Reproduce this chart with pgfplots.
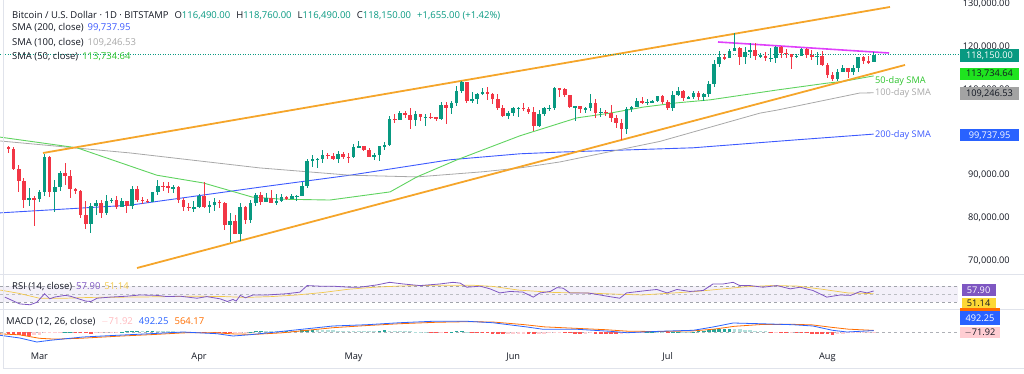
\documentclass[border=0pt]{standalone}
\usepackage{pgfplots}
\pgfplotsset{compat=1.18}
\usepackage{pgfplotstable}
\usepackage{fontspec}
\setmainfont{Open Sans}
\definecolor{up}{HTML}{089981}
\definecolor{dn}{HTML}{F23645}
\definecolor{tvtext}{HTML}{131722}
\definecolor{tvgray}{HTML}{787B86}
\definecolor{sepline}{HTML}{E0E3EB}
\definecolor{smaF}{HTML}{5FD35F}
\definecolor{smaFtxt}{HTML}{2EC42E}
\definecolor{smaH}{HTML}{A8A8A8}
\definecolor{smaT}{HTML}{3D5AFE}
\definecolor{chan}{HTML}{F5A52A}
\definecolor{mag}{HTML}{E040FB}
\definecolor{rsi}{HTML}{7E57C2}
\definecolor{rsima}{HTML}{F2C94C}
\definecolor{macd}{HTML}{2962FF}
\definecolor{sig}{HTML}{FF6D00}
\definecolor{hA}{HTML}{26A69A}
\definecolor{hB}{HTML}{B2DFDB}
\definecolor{hC}{HTML}{FF5252}
\definecolor{hD}{HTML}{FFCDD2}
\definecolor{boxgreen}{HTML}{1FE31F}
\definecolor{boxgray}{HTML}{A3A3A3}
\definecolor{boxyellow}{HTML}{FDD835}
\newcommand{\hdr}{\fontsize{9.5}{11}\selectfont}
\newcommand{\scl}{\fontsize{9.2}{10}\selectfont}

\pgfplotstableread{
d o h l c
-6 96.56 96.90 95.20 96.20
-5 96.20 96.50 91.20 91.50
-4 91.50 92.50 86.00 88.70
-3 88.70 89.30 82.30 84.30
-2 84.30 87.00 82.80 84.70
-1 84.70 85.10 78.20 84.40
0 84.40 86.50 83.80 86.00
1 86.00 95.00 85.10 94.30
2 94.30 94.40 85.00 86.10
3 86.10 88.90 81.40 87.20
4 87.20 91.00 86.30 90.60
5 90.60 92.80 87.80 89.90
6 89.90 91.30 84.70 86.80
7 86.80 86.90 85.60 86.20
8 86.20 86.50 80.00 80.70
9 80.70 83.90 77.50 78.50
10 78.50 83.60 76.60 82.90
11 82.90 84.30 80.70 83.60
12 83.60 84.30 79.90 81.10
13 81.10 85.30 80.80 84.00
14 84.00 84.70 83.60 84.30
15 84.30 85.10 82.00 82.60
16 82.60 84.70 82.50 84.00
17 84.00 84.00 81.20 82.70
18 82.70 87.40 82.20 86.80
19 86.80 87.40 83.70 84.20
20 84.20 84.80 83.20 84.00
21 84.00 84.50 83.60 83.80
22 83.80 86.10 83.70 86.00
23 86.00 88.80 85.40 87.50
24 87.50 88.50 86.30 87.40
25 87.40 88.30 85.90 86.90
26 86.90 87.80 85.80 87.20
27 87.20 87.50 83.60 84.30
28 84.30 84.60 81.60 82.60
29 82.60 83.50 81.60 82.40
30 82.40 83.90 81.30 82.50
31 82.50 85.50 82.40 85.20
32 85.20 88.50 82.30 82.50
33 82.50 83.90 81.20 83.10
34 83.10 84.70 81.70 83.80
35 83.80 84.20 82.40 83.50
36 83.50 83.80 77.20 78.40
37 78.40 81.20 74.50 79.20
38 79.20 80.80 76.20 76.30
39 76.30 83.50 74.60 82.60
40 82.60 82.70 78.50 79.60
41 79.60 84.20 78.90 83.40
42 83.40 85.80 82.80 85.30
43 85.30 86.10 83.10 83.70
44 83.70 85.80 83.70 84.60
45 84.60 86.50 83.60 83.60
46 83.60 85.50 83.10 84.00
47 84.00 85.50 83.80 84.90
48 84.90 85.10 84.30 84.50
49 84.50 85.60 84.40 85.10
50 85.10 85.30 83.90 85.10
51 85.10 88.50 85.10 87.50
52 87.50 93.80 87.10 93.40
53 93.40 94.70 91.90 93.70
54 93.70 94.00 91.70 93.90
55 93.90 95.80 92.90 94.70
56 94.70 95.30 93.90 94.60
57 94.60 95.20 93.60 93.80
58 93.80 95.60 92.90 94.90
59 94.90 95.50 93.80 94.30
60 94.30 95.10 92.90 94.20
61 94.20 97.40 94.10 96.50
62 96.50 97.90 96.30 96.90
63 96.90 96.90 95.70 95.90
64 95.90 96.30 94.20 94.30
65 94.30 95.20 93.60 94.70
66 94.70 96.90 93.40 96.80
67 96.80 97.70 95.80 97.00
68 97.00 103.90 96.90 103.20
69 103.20 104.30 102.30 102.90
70 102.90 104.90 102.80 104.60
71 104.60 104.90 103.30 104.10
72 104.10 105.80 100.80 102.80
73 102.80 104.90 101.50 104.20
74 104.20 104.30 102.60 103.50
75 103.50 104.20 101.40 103.70
76 103.70 104.50 103.10 103.50
77 103.50 103.70 102.60 103.20
78 103.20 107.00 103.00 106.40
79 106.40 107.10 102.00 105.60
80 105.60 107.30 104.20 106.80
81 106.80 110.80 106.20 109.60
82 109.60 112.00 109.30 111.70
83 111.70 111.80 106.80 107.30
84 107.30 109.50 106.90 107.80
85 107.80 109.30 106.60 109.00
86 109.00 110.40 108.70 109.40
87 109.40 110.70 107.60 108.90
88 108.90 109.30 106.70 107.80
89 107.80 108.90 105.30 105.60
90 105.60 106.30 103.70 103.90
91 103.90 104.90 103.10 104.60
92 104.60 105.90 103.90 105.60
93 105.60 105.90 103.70 105.80
94 105.80 106.80 104.90 105.40
95 105.40 106.00 104.20 104.70
96 104.70 105.90 100.40 101.50
97 101.50 105.20 101.20 104.30
98 104.30 105.90 103.90 105.60
99 105.60 106.40 105.10 105.70
100 105.70 110.60 105.30 110.30
101 110.30 110.40 108.30 110.20
102 110.20 110.30 108.30 108.70
103 108.70 108.80 105.70 105.90
104 105.90 106.20 102.70 106.10
105 106.10 106.20 104.60 105.40
106 105.40 106.00 104.50 105.60
107 105.60 108.90 104.90 106.80
108 106.80 107.80 103.40 104.60
109 104.60 105.60 103.60 104.80
110 104.80 105.20 103.90 104.60
111 104.60 106.50 102.40 103.30
112 103.30 104.00 101.10 102.20
113 102.20 103.20 98.20 100.90
114 100.90 106.00 99.60 105.40
115 105.40 106.20 104.70 106.00
116 106.00 108.00 105.90 107.30
117 107.30 108.30 106.60 106.90
118 106.90 107.70 106.30 107.10
119 107.10 107.50 106.80 107.30
120 107.30 108.50 107.20 108.40
121 108.40 108.80 106.70 107.10
122 107.10 107.50 105.30 105.70
123 105.70 109.70 105.10 108.80
124 108.80 110.50 108.60 109.60
125 109.60 109.80 107.30 108.00
126 108.00 108.40 107.80 108.20
127 108.20 109.70 107.80 109.20
128 109.20 109.70 107.50 108.20
129 108.20 109.20 107.40 108.90
130 108.90 111.90 108.30 111.30
131 111.30 116.80 110.60 115.90
132 115.90 118.90 115.20 117.50
133 117.50 118.20 116.90 117.40
134 117.40 119.50 117.30 119.10
135 119.10 123.20 118.90 119.80
136 119.80 119.90 115.70 117.70
137 117.70 120.00 116.00 118.70
138 118.70 120.80 117.40 119.30
139 119.30 120.90 116.80 117.90
140 117.90 118.60 117.30 117.90
141 117.90 118.80 116.60 117.30
142 117.30 119.70 116.50 117.40
143 117.40 120.20 116.10 119.90
144 119.90 120.10 117.30 118.60
145 118.60 119.50 117.30 118.30
146 118.30 118.40 114.70 117.60
147 117.60 118.30 117.30 117.90
148 117.90 119.80 117.80 119.40
149 119.40 119.80 117.40 118.00
150 118.00 119.30 116.90 117.80
151 117.80 118.80 115.80 117.80
152 117.80 118.90 115.50 115.70
153 115.70 116.10 112.70 113.30
154 113.30 114.00 112.00 112.50
155 112.50 114.80 112.00 114.20
156 114.20 115.70 114.10 115.00
157 115.00 115.10 112.60 114.10
158 114.10 115.80 113.40 115.00
159 115.00 117.60 114.20 117.50
160 117.50 117.90 115.90 116.60
161 116.60 117.80 116.00 116.49
162 116.49 118.76 116.49 118.15
}\candles

\pgfplotstableread{
d h k
-6 -700 2
-5 -900 2
-4 -1100 2
-3 -1250 2
-2 -1300 2
-1 -1200 3
0 -900 3
1 -500 3
2 -450 3
3 -300 3
4 -150 3
5 50 0
6 100 0
7 -50 2
8 -200 2
9 -450 2
10 -600 2
11 -400 3
12 -300 3
13 -250 3
14 -150 3
15 -50 3
16 50 0
17 200 0
18 300 0
19 350 0
20 300 1
21 400 0
22 500 0
23 450 1
24 400 1
25 300 1
26 250 1
27 150 1
28 50 1
29 -50 2
30 -100 2
31 -100 3
32 -150 2
33 -150 3
34 -200 2
35 -300 2
36 -450 2
37 -500 2
38 -450 3
39 -300 3
40 -100 3
41 100 0
42 250 0
43 300 0
44 300 1
45 250 1
46 250 1
47 300 0
48 350 0
49 300 1
50 250 1
51 600 0
52 800 0
53 850 0
54 850 1
55 800 1
56 700 1
57 600 1
58 500 1
59 400 1
60 350 1
61 350 1
62 300 1
63 300 1
64 250 1
65 200 1
66 400 0
67 550 0
68 500 1
69 400 1
70 300 1
71 250 1
72 200 1
73 100 1
74 50 1
75 20 1
76 -100 2
77 -150 2
78 -100 3
79 -150 2
80 100 0
81 250 0
82 300 0
83 100 1
84 -100 2
85 -200 2
86 -300 2
87 -450 2
88 -600 2
89 -800 2
90 -850 2
91 -800 3
92 -700 3
93 -650 3
94 -600 3
95 -650 2
96 -700 2
97 -650 3
98 -550 3
99 -400 3
100 -300 3
101 -250 3
102 -400 2
103 -500 2
104 -550 2
105 -600 2
106 -550 3
107 -500 3
108 -550 2
109 -650 2
110 -700 2
111 -750 2
112 -800 2
113 -700 3
114 -450 3
115 -250 3
116 -100 3
117 -50 3
118 20 0
119 50 0
120 50 1
121 50 1
122 -20 2
123 100 0
124 150 0
125 100 1
126 100 1
127 150 0
128 250 0
129 500 0
130 800 0
131 1000 0
132 1050 0
133 1100 0
134 1150 0
135 1100 1
136 900 1
137 750 1
138 600 1
139 450 1
140 300 1
141 200 1
142 -100 2
143 -30 3
144 -250 2
145 -300 2
146 -250 3
147 -350 2
148 -450 2
149 -500 2
150 -600 2
151 -650 2
152 -750 2
153 -850 2
154 -900 2
155 -800 3
156 -650 3
157 -500 3
158 -400 3
159 -300 3
160 -200 3
161 -150 3
162 -72 3
}\hist

\begin{document}
\scl
\begin{tikzpicture}[x=1pt,y=1pt]
% ================= MAIN PRICE PANE =================
\begin{axis}[
  at={(0pt,100pt)}, anchor=south west,
  width=958pt, height=274pt, scale only axis,
  xmin=-7.65, xmax=178.37, ymin=66.92, ymax=130.93,
  axis line style={draw=none}, major tick length=0pt,
  xtick=\empty,
  ytick={70,80,90,110,120,130},
  yticklabels={{70,000.00},{80,000.00},{90,000.00},{110,000.00},{120,000.00},{130,000.00}},
  yticklabel pos=right,
  yticklabel style={anchor=east, xshift=55pt, font=\scl, text=tvtext},
  clip=false,
]
% SMA 200
\addplot[smaT, line width=0.9pt, no marks] coordinates {
(-7.65,81.2) (17.6,83.0) (42.8,87.2) (60.3,90.0) (79.7,93.6) (93.3,95.0) (101.1,95.4) (126.9,96.4) (146.3,98.2) (162,99.6)};
% SMA 100
\addplot[smaH, line width=0.8pt, no marks] coordinates {
(-7.65,98.0) (17.6,95.2) (42.8,91.7) (60.3,90.0) (73.3,89.6) (86.1,90.8) (93.3,91.7) (101.1,93.1) (120.5,97.9) (139.9,104.5) (143.2,105.2) (159.3,109.2) (162,109.25)};
% SMA 50
\addplot[smaF, line width=0.9pt, no marks] coordinates {
(-7.65,98.9) (7.3,96.4) (22.8,90.0) (31.8,88.2) (41.3,84.9) (47,84.4) (56.4,84.2) (68.1,86.1) (73.3,89.6) (81.1,93.6) (86.1,95.9) (93.3,99.2) (104.4,103.4) (110.8,104.5) (117.2,105.9) (123.8,106.9) (130.2,107.6) (143.2,109.9) (152.9,111.5) (156,111.9) (162,113.2)};
% channel lines
\addplot[chan, line width=1.8pt, no marks] coordinates {(0.70,95.19) (165.17,129.30)};
\addplot[chan, line width=1.8pt, no marks] coordinates {(18.95,68.32) (168.08,115.75)};
\addplot[mag, line width=1.6pt, no marks] coordinates {(131.77,121.12) (164.97,118.55)};
% current price line
\addplot[up, line width=0.6pt, dash pattern=on 1pt off 1.5pt, no marks] coordinates {(-7.65,118.15) (178.37,118.15)};
% wicks
\addplot[draw=none, no marks, forget plot,
  restrict expr to domain={\thisrow{c}-\thisrow{o}}{0:1000},
  error bars/.cd, y dir=both, y explicit, error mark=none,
  error bar style={draw=up, solid, line width=0.9pt}]
  table[x=d, y expr={(\thisrow{h}+\thisrow{l})/2}, y error expr={(\thisrow{h}-\thisrow{l})/2}] {\candles};
\addplot[draw=none, no marks, forget plot,
  restrict expr to domain={\thisrow{c}-\thisrow{o}}{-1000:-0.001},
  error bars/.cd, y dir=both, y explicit, error mark=none,
  error bar style={draw=dn, solid, line width=0.9pt}]
  table[x=d, y expr={(\thisrow{h}+\thisrow{l})/2}, y error expr={(\thisrow{h}-\thisrow{l})/2}] {\candles};
% bodies
\addplot[draw=none, no marks, forget plot,
  restrict expr to domain={\thisrow{c}-\thisrow{o}}{0:1000},
  error bars/.cd, y dir=both, y explicit, error mark=none,
  error bar style={draw=up, solid, line width=3.6pt, line cap=butt}]
  table[x=d, y expr={(\thisrow{o}+\thisrow{c})/2}, y error expr={max(abs(\thisrow{c}-\thisrow{o})/2,0.1)}] {\candles};
\addplot[draw=none, no marks, forget plot,
  restrict expr to domain={\thisrow{c}-\thisrow{o}}{-1000:-0.001},
  error bars/.cd, y dir=both, y explicit, error mark=none,
  error bar style={draw=dn, solid, line width=3.6pt, line cap=butt}]
  table[x=d, y expr={(\thisrow{o}+\thisrow{c})/2}, y error expr={max(abs(\thisrow{c}-\thisrow{o})/2,0.1)}] {\candles};
\end{axis}

% ================= RSI PANE =================
\begin{axis}[
  at={(0pt,65pt)}, anchor=south west,
  width=958pt, height=35pt, scale only axis,
  xmin=-7.65, xmax=178.37, ymin=13.6, ymax=99.4,
  hide axis,
]
\fill[rsi, opacity=0.09] (axis cs:-7.65,30) rectangle (axis cs:178.37,70);
\draw[tvgray!70, dash pattern=on 3pt off 3pt, line width=0.6pt] (axis cs:-7.65,70) -- (axis cs:178.37,70);
\draw[tvgray!50, dash pattern=on 3pt off 3pt, line width=0.6pt] (axis cs:-7.65,50) -- (axis cs:178.37,50);
\draw[tvgray!70, dash pattern=on 3pt off 3pt, line width=0.6pt] (axis cs:-7.65,30) -- (axis cs:178.37,30);
\addplot[rsima, line width=0.7pt, no marks] coordinates {
(-7.6,60) (-4,52) (0,40) (5,40) (10,42) (20,43) (30,45) (36,44) (40,42) (45,44) (50,48) (55,54) (60,62) (65,67) (70,70) (78,72) (84,72) (88,69) (93,60) (100,54) (106,53) (112,50) (117,48) (122,52) (127,56) (132,62) (137,68) (142,71) (147,70) (152,62) (157,53) (162,51.14)};
\addplot[rsi, line width=0.8pt, no marks] coordinates {
(-6.7,42.7) (-3.8,26) (-1.8,24) (-0.5,30) (1,51) (2,38.5) (3,43) (5,47) (6,45) (8,37) (9,33) (10,32) (11.2,40) (13.7,42.7) (17,45) (19.5,48) (22.8,47) (24.8,44) (27.3,45) (30.6,40) (32.5,44) (35.1,38.5) (36.5,32) (37.6,37) (38.2,33) (39,47) (40,41) (41.5,48) (44.2,48) (48,51) (50.6,55) (52,71) (54.5,69.5) (57,69.5) (60.3,67) (62.2,67) (65.5,72.6) (68,79) (70.6,75) (73.9,71) (77.8,75) (80.3,79) (81.7,77) (83,67) (85.6,69.5) (87.5,63) (89.4,53) (91.4,56.6) (93.9,55) (95.9,42.7) (97.2,53) (99.2,56.6) (100.5,66) (101.7,64.6) (103,53) (106.3,53) (107.5,51) (110.2,45) (112.7,40) (114,53) (118,59) (119.9,61.5) (121.9,53) (123.8,61.5) (126.3,56.6) (128.9,59) (130.8,75) (132.8,75) (134.7,79) (136,71) (138,71) (140.5,67) (143.2,71) (145.8,63) (147.7,67) (150.2,59) (152.9,42.7) (155.5,48) (157.5,47) (159.4,56.6) (160.7,53) (162,57.9)};
\end{axis}

% ================= MACD PANE =================
\begin{axis}[
  at={(0pt,26pt)}, anchor=south west,
  width=958pt, height=39pt, scale only axis,
  xmin=-7.65, xmax=178.37, ymin=-5600, ymax=8050,
  axis line style={draw=none}, major tick length=0pt,
  ytick=\empty,
  xtick={0,31,61,92,122,153}, xticklabels={Mar,Apr,May,Jun,Jul,Aug},
  xticklabel style={font=\scl, text=tvtext, yshift=-1.5pt},
]
\draw[tvgray!60, dash pattern=on 3pt off 3pt, line width=0.6pt] (axis cs:-7.65,0) -- (axis cs:178.37,0);
\addplot[ycomb, hA, line width=3.6pt, line cap=butt, no marks, restrict expr to domain={\thisrow{k}}{-0.5:0.5}] table[x=d,y=h] {\hist};
\addplot[ycomb, hB, line width=3.6pt, line cap=butt, no marks, restrict expr to domain={\thisrow{k}}{0.5:1.5}] table[x=d,y=h] {\hist};
\addplot[ycomb, hC, line width=3.6pt, line cap=butt, no marks, restrict expr to domain={\thisrow{k}}{1.5:2.5}] table[x=d,y=h] {\hist};
\addplot[ycomb, hD, line width=3.6pt, line cap=butt, no marks, restrict expr to domain={\thisrow{k}}{2.5:3.5}] table[x=d,y=h] {\hist};
\addplot[sig, line width=0.8pt, no marks] coordinates {
(-7.65,-650) (-3.8,-1000) (0,-2200) (3,-2500) (8,-2200) (12,-1800) (16,-1400) (22,-900) (28,-300) (34,-250) (38,-700) (42,-800) (47,-300) (52,600) (57,1500) (63,2200) (70,2900) (77,3400) (83,3600) (88,3500) (94,2600) (98,1800) (104,1300) (110,800) (114,300) (120,150) (127,400) (131,1000) (135,2000) (140,2600) (146,2700) (150,2500) (154,1600) (157,1000) (162,564)};
\addplot[macd, line width=0.8pt, no marks] coordinates {
(-7.65,-1150) (-3.8,-2100) (-0.5,-3500) (2.1,-2900) (8.5,-1750) (15.1,-1150) (21.5,-600) (27.9,0) (34.5,-600) (37.6,-1400) (40.9,-950) (47.3,250) (52,1150) (57,2100) (63.6,2550) (70,3250) (76.4,3750) (83,3750) (88,3250) (94.7,1750) (97.8,950) (104.4,950) (110.8,250) (114.1,-250) (120.5,250) (127,600) (130.8,1750) (134.7,3150) (139.9,2900) (146.3,2550) (150.2,2100) (154,600) (156.8,0) (162,492)};
\end{axis}

% ================= separators and frame =================
\draw[sepline, line width=0.8pt] (0,100) -- (1024,100);
\draw[sepline, line width=0.8pt] (0,65) -- (1024,65);
\draw[sepline, line width=0.6pt] (3,6) -- (1024,6);
\draw[sepline, line width=0.6pt] (3,6) -- (3,374);

% ================= header texts =================
\node[anchor=west, inner sep=0pt, text=tvtext, font=\hdr] at (12,358.5) {Bitcoin / U.S. Dollar · 1D · BITSTAMP\hspace{6pt}O{\color{up}116,490.00}\hspace{6pt}H{\color{up}118,760.00}\hspace{6pt}L{\color{up}116,490.00}\hspace{6pt}C{\color{up}118,150.00}\hspace{6pt}{\color{up}+1,655.00 (+1.42\%)}};
\node[anchor=west, inner sep=0pt, text=tvtext, font=\hdr] at (12,346) {SMA (200, close)\hspace{4pt}{\color{smaT}99,737.95}};
\node[anchor=west, inner sep=0pt, text=tvtext, font=\hdr] at (12,331.5) {SMA (100, close)\hspace{4pt}{\color{smaH}109,246.53}};
\node[anchor=west, inner sep=0pt, text=tvtext, font=\hdr] at (12,317.5) {SMA (50, close)\hspace{4pt}{\color{smaFtxt}113,734.64}};
\node[anchor=west, inner sep=0pt, text=tvtext, font=\hdr] at (12,87) {RSI (14, close)\hspace{4pt}{\color{rsi}57.90}\hspace{4pt}{\color{rsima}51.14}};
\node[anchor=west, inner sep=0pt, text=tvtext, font=\hdr] at (6,52) {MACD (12, 26, close)\hspace{6pt}{\color{hD!90!red}$-$71.92}\hspace{6pt}{\color{macd}492.25}\hspace{6pt}{\color{sig}564.17}};

% SMA end labels
\node[anchor=west, inner sep=0pt, text=smaFtxt, font=\scl] at (875,293) {50-day SMA};
\node[anchor=west, inner sep=0pt, text=smaH, font=\scl] at (875,281) {100-day SMA};
\node[anchor=west, inner sep=0pt, text=smaT, font=\scl] at (875,239) {200-day SMA};

% price scale boxes
\node[fill=up, text=white, minimum width=59pt, minimum height=13pt, inner sep=0pt] at (989.5,318.5) {118,150.00};
\node[fill=boxgreen, text=tvtext, minimum width=59pt, minimum height=12pt, inner sep=0pt] at (989.5,300) {113,734.64};
\node[fill=boxgray, text=tvtext, minimum width=59pt, minimum height=13pt, inner sep=0pt] at (989.5,280.5) {109,246.53};
\node[fill=macd, text=white, minimum width=59pt, minimum height=12pt, inner sep=0pt] at (989.5,238.5) {99,737.95};
\node[fill=rsi, text=white, minimum width=34pt, minimum height=12pt, inner sep=0pt] at (978.5,84) {57.90};
\node[fill=boxyellow, text=tvtext, minimum width=34pt, minimum height=10pt, inner sep=0pt] at (978.5,70.5) {51.14};
\fill[sig] (960,62) rectangle (1000,66);
\node[fill=macd, text=white, minimum width=40pt, minimum height=14pt, inner sep=0pt] at (980,56) {492.25};
\node[fill=hD, text=tvtext, minimum width=40pt, minimum height=11pt, inner sep=0pt] at (980,41.5) {$-$71.92};

\pgfresetboundingbox
\useasboundingbox (0,0) rectangle (1024,374);
\end{tikzpicture}
\end{document}
